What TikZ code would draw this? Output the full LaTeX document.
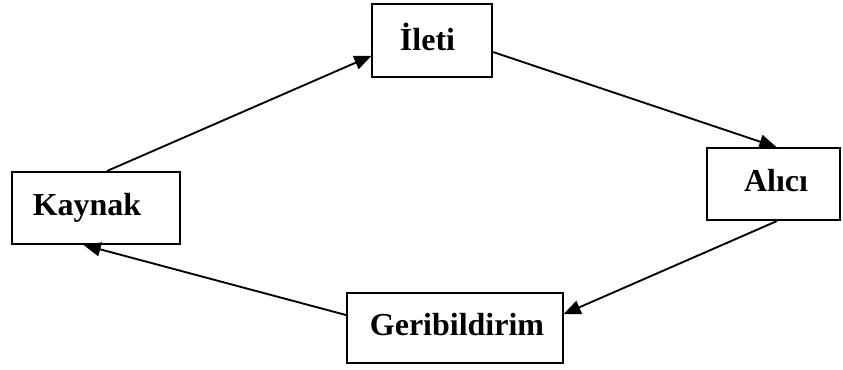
\documentclass[tikz,border=0pt]{standalone}
\usepackage{fontspec}
\setmainfont{Liberation Serif}
\usetikzlibrary{arrows.meta}
\newdimen\px
\px=0.75pt
\tikzset{
  stage/.style={draw=black, line width=1.5pt, rectangle, inner sep=0pt},
  stagetext/.style={font=\fontsize{24}{28}\selectfont\bfseries, inner sep=0pt},
  flow/.style={line width=1.4pt, -{Triangle[length=13pt,width=10.5pt]}, shorten >=-0.5pt},
}
\begin{document}
\begin{tikzpicture}[x=0.75pt, y=-0.75pt]
  \useasboundingbox (0,0) rectangle (843,369);
  % the four stages of the cycle
  \node[stage, minimum width=120*\px, minimum height=73*\px,
        label={[stagetext, xshift=-4.5*\px, yshift=4*\px]center:İleti}] (ileti) at (432,40.5) {};
  \node[stage, minimum width=133*\px, minimum height=72*\px,
        label={[stagetext, xshift=2.5*\px, yshift=3*\px]center:Alıcı}] (alici) at (773.5,184) {};
  \node[stage, minimum width=168*\px, minimum height=72*\px,
        label={[stagetext, xshift=-9*\px, yshift=0*\px]center:Kaynak}] (kaynak) at (96,208) {};
  \node[stage, minimum width=216*\px, minimum height=70*\px,
        label={[stagetext, xshift=2*\px, yshift=3*\px]center:Geribildirim}] (geri) at (455,328) {};
  % connectors between the stages
  \draw[flow] ([xshift=96*\px]kaynak.north west) -- ([yshift=-53*\px]ileti.north west);
  \draw[flow] ([yshift=-49*\px]ileti.north east) -- ([xshift=70*\px]alici.north west);
  \draw[flow] ([xshift=71*\px]alici.south west) -- ([yshift=-22*\px]geri.north east);
  \draw[flow] ([yshift=-23*\px]geri.north west) -- ([xshift=73*\px]kaynak.south west);
\end{tikzpicture}
\end{document}
